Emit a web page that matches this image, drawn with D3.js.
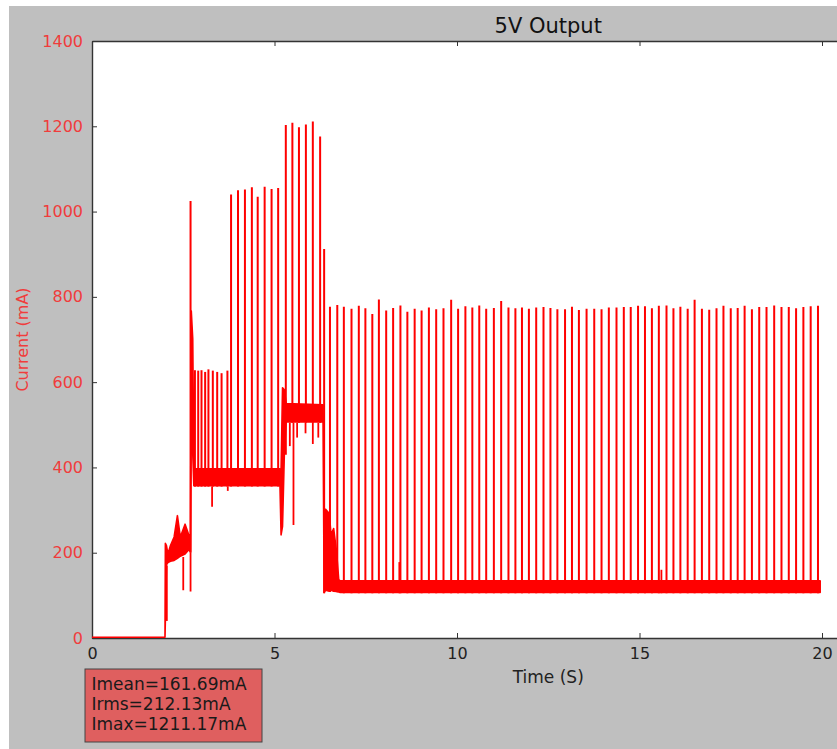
<!DOCTYPE html>
<html>
<head>
<meta charset="utf-8">
<script src="https://cdn.jsdelivr.net/npm/d3@7"></script>
<style>
  html, body { margin: 0; padding: 0; background: #fff; }
  svg text { font-family: "DejaVu Sans", sans-serif; }
</style>
</head>
<body>
<svg id="chart" width="837" height="749"></svg>
<script>
// axis ticks
const xTicks = [0, 5, 10, 15, 20]
const yTicks = [0, 200, 400, 600, 800, 1000, 1200, 1400]

// noisy base band of the trace (time s, low mA, high mA)
const bandT  = [0, 2.00, 2.01, 2.04, 2.08, 2.15, 2.25, 2.34, 2.42, 2.55, 2.65, 2.70, 2.72, 2.76, 2.79, 5.15, 5.18, 5.22, 5.27, 5.32, 6.33, 6.36, 6.40, 6.50, 6.55, 6.62, 6.70, 6.76, 6.80, 19.95]
const bandLo = [0, 0,    40,   170,  175,  178,  180,  185,  190,  195,  205,  200,  480,  430,  355,  355,  240,  260,  430,  505,  505,  105,  110,  108,  110,  108,  107,  106,  105,  105]
const bandHi = [0, 0,    220,  215,  195,  215,  235,  285,  235,  265,  240,  240,  765,  700,  395,  395,  390,  585,  580,  548,  545,  300,  300,  290,  240,  255,  200,  135,  132,  132]

// current spikes (time s, peak mA)
const spikeT = [2.70,
  2.82, 2.91, 3.00, 3.10, 3.19, 3.31, 3.43, 3.55, 3.71,
  3.81, 4.00, 4.19, 4.38, 4.54, 4.73, 4.92, 5.10,
  5.31, 5.49, 5.67, 5.86, 6.05, 6.25,
  6.36,
  6.52, 6.72, 6.90, 7.11, 7.31, 7.49, 7.68, 7.86, 8.06, 8.25,
  8.45, 8.64, 8.84, 9.03, 9.23, 9.43, 9.63, 9.84, 10.03, 10.23,
  10.42, 10.61, 10.80, 11.01, 11.21, 11.41, 11.60, 11.78, 11.97, 12.17,
  12.37, 12.56, 12.75, 12.96, 13.15, 13.34,
  13.55, 13.76, 13.96, 14.16, 14.37, 14.57, 14.76, 14.96, 15.15, 15.34,
  15.53, 15.74, 15.93, 16.12, 16.32, 16.51, 16.71, 16.91, 17.11, 17.30,
  17.50, 17.69, 17.88, 18.08, 18.28, 18.48, 18.69, 18.89, 19.09, 19.29,
  19.49, 19.69, 19.89]
const spikeI = [1025,
  628, 627, 628, 624, 630, 627, 624, 621, 627,
  1040, 1050, 1052, 1057, 1035, 1058, 1053, 1055,
  1203, 1208, 1198, 1204, 1211, 1176,
  912,
  777, 781, 777, 772, 779, 773, 760, 794, 768, 774,
  780, 765, 772, 768, 775, 771, 773, 793, 772, 778,
  775, 780, 772, 774, 790, 775, 773, 775, 772, 775,
  776, 774, 771, 771, 777, 769,
  772, 772, 771, 775, 775, 776, 776, 779, 778, 773,
  779, 780, 773, 777, 772, 793, 772, 770, 773, 779,
  773, 774, 779, 771, 776, 776, 780, 776, 776, 773,
  776, 778, 779]

// short excursions away from the band (time s, mA)
const glitchT = [2.05, 2.50, 2.70, 3.29, 3.72, 5.42, 5.52, 5.62, 5.85, 6.05, 6.20, 8.42, 15.60]
const glitchI = [40,   112,  109,  308,  345,  450,  265,  470,  480,  455,  470,  178,  160]

const stats = ["Imean=161.69mA", "Irms=212.13mA", "Imax=1211.17mA"]

const W = 837, H = 749
const margin = { top: 41, left: 92, bottom: 638, right: 1004.5 }

const svg = d3.select("#chart")

svg.append("rect").attr("width", W).attr("height", H).attr("fill", "#fff")
svg.append("rect").attr("x", 9).attr("y", 6).attr("width", W - 9).attr("height", H - 6).attr("fill", "#bfbfbf")

const x = d3.scaleLinear().domain([0, 25]).range([margin.left, margin.right])
const y = d3.scaleLinear().domain([0, 1400]).range([margin.bottom, margin.top])

svg.append("rect")
  .attr("x", margin.left).attr("y", margin.top)
  .attr("width", margin.right - margin.left).attr("height", margin.bottom - margin.top)
  .attr("fill", "#fff")

svg.append("clipPath").attr("id", "plot-clip")
  .append("rect")
  .attr("x", margin.left).attr("y", margin.top - 1)
  .attr("width", margin.right - margin.left).attr("height", margin.bottom - margin.top + 2)

// axes go under the trace so the zero line shows on the bottom spine
const spine = "#333"

const xAxis = svg.append("g")
  .attr("transform", "translate(0," + margin.bottom + ")")
  .call(d3.axisBottom(x).tickValues(xTicks).tickSizeInner(-5).tickSizeOuter(0).tickPadding(10))
xAxis.selectAll("text").attr("fill", "#222").style("font-size", "16px")

const xTop = svg.append("g")
  .attr("transform", "translate(0," + margin.top + ")")
  .call(d3.axisTop(x).tickValues(xTicks).tickSizeInner(-5).tickSizeOuter(0).tickFormat(""))

const yAxis = svg.append("g")
  .attr("transform", "translate(" + margin.left + ",0)")
  .call(d3.axisLeft(y).tickValues(yTicks).tickFormat(d3.format("d")).tickSizeInner(-5).tickSizeOuter(0).tickPadding(9))
yAxis.selectAll("text").attr("fill", "#f03c3c").style("font-size", "16px")

svg.selectAll(".domain").attr("stroke", spine).attr("stroke-width", 1.4)
svg.selectAll(".tick line").attr("stroke", spine).attr("stroke-width", 1)

const g = svg.append("g").attr("clip-path", "url(#plot-clip)")

// band
const band = bandT.map((t, i) => ({ t: t, lo: bandLo[i], hi: bandHi[i] }))
const area = d3.area()
  .x(d => x(d.t))
  .y0(d => y(d.lo))
  .y1(d => y(d.hi))

g.append("path")
  .datum(band)
  .attr("d", area)
  .attr("transform", "translate(0,-0.8)")
  .attr("fill", "red")
  .attr("stroke", "red")
  .attr("stroke-width", 1.6)
  .attr("stroke-linejoin", "round")

// base of a spike = low edge of the band at the keyframe before it
const bis = d3.bisector(d => d).right
function baseAt(t) {
  var i = Math.max(0, bis(bandT, t) - 1)
  return bandLo[i]
}

g.selectAll(".glitch")
  .data(glitchT)
  .enter().append("line")
  .attr("class", "glitch")
  .attr("x1", d => x(d)).attr("x2", d => x(d))
  .attr("y1", d => y(baseAt(d)))
  .attr("y2", (d, i) => y(glitchI[i]))
  .attr("stroke", "red")
  .attr("stroke-width", 1.8)

g.selectAll(".spike")
  .data(spikeT)
  .enter().append("line")
  .attr("class", "spike")
  .attr("x1", d => x(d)).attr("x2", d => x(d))
  .attr("y1", d => y(baseAt(d)))
  .attr("y2", (d, i) => y(spikeI[i]))
  .attr("stroke", "red")
  .attr("stroke-width", 2)

// labels
svg.append("text")
  .attr("x", (margin.left + margin.right) / 2).attr("y", 33)
  .attr("text-anchor", "middle")
  .attr("fill", "#111")
  .style("font-size", "21px")
  .text("5V Output")

svg.append("text")
  .attr("x", (margin.left + margin.right) / 2).attr("y", 683)
  .attr("text-anchor", "middle")
  .attr("fill", "#222")
  .style("font-size", "17px")
  .text("Time (S)")

svg.append("text")
  .attr("transform", "translate(28," + (margin.top + margin.bottom) / 2 + ") rotate(-90)")
  .attr("text-anchor", "middle")
  .attr("fill", "#f03c3c")
  .style("font-size", "16px")
  .text("Current (mA)")

// stats box
const box = svg.append("g").attr("transform", "translate(85,669)")
box.append("rect")
  .attr("width", 177).attr("height", 73)
  .attr("fill", "red").attr("fill-opacity", 0.5)
  .attr("stroke", "#444").attr("stroke-width", 1)
box.selectAll("text")
  .data(stats)
  .enter().append("text")
  .attr("x", 6.5)
  .attr("y", (d, i) => 21 + i * 20)
  .attr("fill", "#1a1a1a")
  .style("font-size", "17px")
  .text(d => d)
</script>
</body>
</html>
